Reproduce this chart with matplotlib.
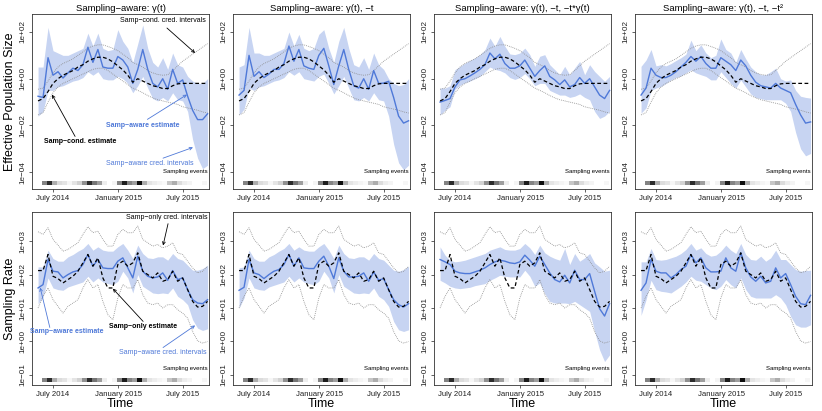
import matplotlib
matplotlib.use("Agg")
import matplotlib.pyplot as plt
import matplotlib.dates as mdates
import matplotlib.ticker as mticker
import numpy as np
import pandas as pd

plt.rcParams["font.family"] = ["Liberation Sans", "DejaVu Sans"]

# biweekly estimate grid and sampling-event bins
dates = pd.date_range("2014-05-21", periods=35, freq="14D")
event_dates = pd.date_range("2014-06-01", periods=33, freq="14D")

# relative density of sampling events (0 = none, 1 = most)
event_shade = [0.6, 0.9, 0.45, 0.25, 0.2, 0.08, 0.2, 0.3, 0.55, 0.9, 0.65, 0.5, 0.15, 0.0, 0.1, 0.6, 0.95,
               0.6, 0.5, 1.0, 0.45, 0.2, 0.15, 0.1, 0.05, 0.35, 0.45, 0.25, 0.15, 0.1, 0.0, 0.0, 0.08]

titles = ["Sampling\u2212aware: \u03b3(t)",
          "Sampling\u2212aware: \u03b3(t), \u2212t",
          "Sampling\u2212aware: \u03b3(t), \u2212t, \u2212t*\u03b3(t)",
          "Sampling\u2212aware: \u03b3(t), \u2212t, \u2212t\u00b2"]

# ---- effective population size (log10) ----
# sampling-conditioned estimate + cred. intervals (same in every panel)
ne_cond = [-0.95, -0.85, -0.55, -0.2, 0.0, 0.15, 0.25, 0.35, 0.5, 0.6, 0.75, 0.85, 0.92, 0.92, 0.85, 0.72, 0.55,
           0.38, 0.15, -0.15, 0.0, -0.1, -0.2, -0.3, -0.35, -0.42, -0.42, -0.3, -0.22, -0.2, -0.2, -0.2, -0.2, -0.2, -0.2]
ne_cond_lo = [-1.55, -1.45, -1.0, -0.6, -0.35, -0.2, -0.1, 0.0, 0.1, 0.2, 0.3, 0.4, 0.45, 0.45, 0.35, 0.2, 0.05,
              -0.1, -0.25, -0.4, -0.5, -0.6, -0.72, -0.82, -0.9, -0.95, -1.0, -1.05, -1.1, -1.2, -1.25, -1.3, -1.35, -1.42, -1.47]
ne_cond_hi = [-0.45, -0.4, -0.1, 0.25, 0.5, 0.65, 0.75, 0.85, 1.0, 1.15, 1.3, 1.4, 1.45, 1.45, 1.38, 1.3, 1.2,
              1.05, 0.9, 0.7, 0.6, 0.5, 0.35, 0.25, 0.18, 0.15, 0.17, 0.35, 0.55, 0.75, 0.9, 1.05, 1.2, 1.35, 1.5]

# sampling-aware estimates, one per model
ne_a = [-0.75, -0.8, 0.9, 0.15, 0.3, 0.03, 0.25, 0.45, 0.35, 0.6, 1.35, 0.7, 1.25, 0.5, 0.45, 0.45, 0.95,
        0.8, 0.5, -0.2, 0.4, 1.25, 0.4, -0.2, -0.35, 0.0, -0.45, 0.4, -0.2, -0.05, -0.75, -1.35, -1.75, -1.75, -1.5]
ne_a_lo = [-1.6, -1.4, -0.5, -0.5, -0.35, -0.3, -0.2, -0.1, -0.05, 0.05, 0.3, 0.15, 0.3, 0.0, -0.05, -0.05, 0.1,
           0.0, -0.2, -0.6, -0.3, 0.1, -0.4, -0.85, -0.95, -0.8, -0.95, -0.6, -0.9, -0.95, -1.4, -2.6, -3.4, -3.85, -3.7]
ne_a_hi = [0.5, 0.5, 2.2, 1.2, 1.1, 1.0, 1.0, 1.1, 1.2, 1.3, 1.95, 1.4, 1.95, 1.3, 1.2, 1.25, 2.1,
           1.6, 1.3, 0.7, 1.5, 2.3, 1.3, 0.7, 0.5, 0.9, 0.4, 1.1, 0.6, 0.5, 0.1, -0.1, -0.2, -0.2, 0.0]

ne_b = [-0.7, -0.5, 1.0, 0.1, 0.3, 0.05, 0.2, 0.4, 0.4, 0.65, 1.4, 0.75, 1.25, 0.55, 0.45, 0.4, 1.0,
        1.3, 0.55, -0.25, 0.55, 1.25, 0.4, -0.3, -0.4, 0.0, -0.45, 0.35, -0.2, -0.19, -0.11, -0.8, -1.6, -1.9, -1.8]
ne_b_lo = [-1.55, -1.3, -0.4, -0.5, -0.35, -0.3, -0.2, -0.1, -0.05, 0.05, 0.3, 0.15, 0.3, 0.0, -0.05, -0.1, 0.1,
           0.2, -0.2, -0.65, -0.3, 0.1, -0.4, -0.9, -0.95, -0.8, -0.95, -0.6, -0.9, -0.95, -1.6, -2.8, -3.6, -3.9, -3.7]
ne_b_hi = [0.5, 0.6, 2.2, 1.1, 1.1, 1.0, 1.0, 1.1, 1.2, 1.3, 2.0, 1.4, 1.9, 1.3, 1.2, 1.3, 1.9,
           2.1, 1.3, 0.7, 1.6, 2.2, 1.3, 0.6, 0.5, 0.9, 0.4, 1.1, 0.6, 0.4, 0.0, -0.2, -0.3, -0.25, 0.0]

ne_c = [-1.0, -0.93, -0.85, -0.35, -0.05, 0.0, 0.12, 0.25, 0.4, 0.6, 1.1, 0.85, 1.05, 0.65, 0.45, 0.45, 0.55,
        0.8, 0.45, 0.1, 0.35, 0.55, 0.1, -0.05, -0.25, -0.05, -0.35, -0.25, 0.05, -0.2, 0.0, -0.35, -0.7, -0.85, -0.5]
ne_c_lo = [-1.55, -1.35, -1.2, -0.45, -0.28, -0.17, -0.1, 0.0, 0.1, 0.3, 0.5, 0.4, 0.35, 0.25, 0.05, -0.03, 0.05,
           0.22, 0.0, -0.3, -0.2, -0.2, -0.5, -0.6, -0.7, -0.7, -0.8, -0.75, -0.65, -0.8, -0.9, -1.4, -1.7, -1.6, -1.4]
ne_c_hi = [-0.4, -0.4, -0.3, 0.39, 0.53, 0.67, 0.79, 0.89, 1.03, 1.24, 1.74, 1.39, 1.81, 1.39, 1.06, 1.03, 1.1,
           1.31, 1.03, 0.53, 0.96, 1.03, 0.6, 0.39, 0.17, 0.53, 0.17, 0.46, 0.74, 0.17, 0.6, 0.31, 0.1, -0.11, 0.1]

ne_d = [-0.7, -0.4, 0.45, 0.15, 0.05, 0.05, 0.15, 0.3, 0.5, 0.7, 0.95, 0.75, 0.95, 0.65, 0.45, 0.45, 0.9,
        0.75, 0.6, 0.35, 0.8, 0.55, 0.15, -0.15, -0.3, -0.35, -0.4, -0.2, -0.4, -0.5, -0.6, -1.1, -1.55, -1.9, -1.85]
ne_d_lo = [-1.47, -1.25, -0.5, -0.4, -0.33, -0.2, -0.05, 0.05, 0.12, 0.25, 0.38, 0.25, 0.17, 0.1, -0.05, -0.05, 0.3,
           0.05, -0.2, -0.4, -0.05, -0.35, -0.65, -0.8, -0.85, -0.9, -0.9, -0.9, -0.9, -1.05, -1.4, -2.3, -3.0, -3.3, -3.2]
ne_d_hi = [0.53, 0.8, 1.25, 0.55, 0.6, 0.55, 0.65, 0.78, 0.9, 1.05, 1.65, 1.2, 1.45, 1.1, 0.9, 1.0, 1.7,
           1.25, 1.1, 0.7, 1.25, 0.85, 0.5, 0.3, 0.17, 0.17, 0.3, 0.45, 0.0, -0.1, -0.05, -0.5, -0.75, -0.8, -0.83]

# ---- sampling rate (log10) ----
sr_only = [2.12, 2.12, 2.6, 1.95, 1.88, 1.75, 1.85, 1.95, 2.1, 2.35, 2.6, 2.25, 2.5, 1.9, 1.6, 1.6, 2.3,
           2.4, 2.25, 2.35, 2.65, 2.1, 2.0, 1.9, 2.05, 1.8, 1.85, 2.1, 1.8, 1.9, 1.55, 1.2, 1.03, 1.05, 1.2]
sr_only_lo = [1.0, 1.35, 1.6, 1.25, 1.05, 0.85, 1.05, 1.15, 1.25, 1.6, 1.85, 1.6, 1.7, 1.2, 0.8, 0.65, 1.3,
              1.7, 1.6, 1.6, 1.85, 1.4, 1.15, 1.1, 1.15, 1.0, 1.1, 1.1, 0.95, 0.85, 0.7, 0.3, 0.02, -0.05, 0.0]
sr_only_hi = [3.28, 3.2, 3.4, 3.05, 2.88, 2.7, 2.75, 2.85, 2.95, 3.2, 3.43, 3.25, 3.3, 3.05, 2.85, 2.85, 3.2,
              3.35, 3.25, 3.25, 3.45, 3.05, 2.95, 2.85, 2.9, 2.8, 2.85, 2.95, 2.65, 2.6, 2.4, 2.2, 2.05, 2.1, 2.25]

sr_a = [1.6, 1.7, 2.45, 2.1, 2.08, 1.9, 2.0, 2.08, 2.12, 2.3, 2.6, 2.25, 2.45, 2.2, 2.18, 2.18, 2.4,
        2.5, 2.2, 1.9, 2.55, 2.1, 1.95, 1.9, 1.93, 2.05, 1.83, 2.12, 1.85, 1.9, 1.55, 1.25, 1.15, 1.13, 1.25]
sr_a_lo = [1.13, 1.33, 1.9, 1.6, 1.55, 1.53, 1.63, 1.68, 1.73, 1.78, 1.95, 1.78, 1.9, 1.78, 1.73, 1.7, 1.8,
           2.1, 1.9, 1.45, 2.0, 1.65, 1.55, 1.45, 1.43, 1.45, 1.43, 1.6, 1.35, 1.25, 1.1, 0.65, 0.4, 0.33, 0.38]
sr_a_hi = [2.23, 2.23, 2.73, 2.48, 2.4, 2.4, 2.53, 2.6, 2.7, 2.78, 2.93, 2.73, 2.83, 2.73, 2.7, 2.7, 2.83,
           2.93, 2.73, 2.48, 2.88, 2.63, 2.5, 2.48, 2.53, 2.53, 2.43, 2.63, 2.48, 2.43, 2.28, 2.13, 2.13, 2.18, 2.28]

sr_b = [1.53, 1.62, 2.45, 2.05, 2.0, 1.88, 2.0, 2.1, 2.15, 2.3, 2.6, 2.25, 2.5, 2.2, 2.18, 2.18, 2.4,
        2.55, 2.25, 1.88, 2.5, 2.1, 1.93, 1.93, 1.95, 2.05, 1.8, 2.08, 1.83, 1.88, 1.55, 1.25, 1.1, 1.03, 1.13]
sr_b_lo = [1.0, 1.3, 1.9, 1.6, 1.55, 1.53, 1.63, 1.68, 1.73, 1.78, 1.95, 1.78, 1.9, 1.78, 1.73, 1.7, 1.8,
           2.1, 1.9, 1.45, 2.0, 1.65, 1.55, 1.45, 1.43, 1.45, 1.43, 1.6, 1.35, 1.25, 1.05, 0.6, 0.35, 0.3, 0.35]
sr_b_hi = [2.2, 2.23, 2.73, 2.48, 2.4, 2.4, 2.53, 2.6, 2.7, 2.78, 2.93, 2.73, 2.83, 2.73, 2.7, 2.7, 2.83,
           2.93, 2.73, 2.48, 2.88, 2.63, 2.5, 2.48, 2.53, 2.53, 2.43, 2.63, 2.48, 2.43, 2.28, 2.13, 2.1, 2.15, 2.25]

sr_c = [2.45, 2.38, 2.3, 2.1, 2.05, 2.03, 2.03, 2.08, 2.13, 2.2, 2.3, 2.38, 2.43, 2.4, 2.35, 2.33, 2.38,
        2.58, 2.43, 2.25, 2.55, 2.3, 2.05, 1.85, 1.78, 1.98, 1.75, 2.13, 1.85, 1.85, 2.03, 1.5, 0.98, 0.76, 1.13]
sr_c_lo = [1.83, 1.75, 1.65, 1.6, 1.58, 1.6, 1.62, 1.67, 1.7, 1.73, 1.83, 1.9, 1.98, 1.95, 1.93, 1.93, 1.93,
           2.13, 1.95, 1.65, 1.75, 1.43, 1.2, 1.15, 1.15, 1.15, 1.13, 1.2, 1.1, 1.0, 0.9, 0.3, -0.25, -0.6, -0.4]
sr_c_hi = [2.83, 2.58, 2.43, 2.38, 2.4, 2.43, 2.48, 2.53, 2.58, 2.63, 2.73, 2.78, 2.83, 2.75, 2.73, 2.73, 2.78,
           2.93, 2.8, 2.6, 2.88, 2.65, 2.55, 2.48, 2.43, 2.78, 2.3, 2.63, 2.4, 2.5, 2.63, 2.35, 2.23, 2.1, 2.13]

sr_d = [1.53, 1.75, 2.45, 2.1, 2.05, 2.05, 1.9, 2.0, 2.15, 2.25, 2.6, 2.35, 2.5, 2.2, 2.08, 2.08, 2.1,
        2.5, 2.2, 2.1, 2.65, 2.2, 1.93, 1.8, 1.95, 1.75, 1.8, 2.2, 1.9, 2.03, 1.7, 1.35, 1.13, 1.1, 1.38]
sr_d_lo = [0.78, 1.25, 1.83, 1.55, 1.5, 1.48, 1.45, 1.55, 1.65, 1.78, 1.95, 1.83, 1.8, 1.7, 1.6, 1.55, 1.65,
           1.85, 1.7, 1.6, 1.9, 1.55, 1.35, 1.3, 1.3, 1.3, 1.3, 1.4, 1.3, 1.1, 0.75, 0.5, 0.43, 0.43, 0.5]
sr_d_hi = [2.38, 2.38, 2.78, 2.45, 2.43, 2.45, 2.5, 2.55, 2.63, 2.75, 2.93, 2.73, 2.8, 2.63, 2.55, 2.58, 2.7,
           2.88, 2.73, 2.63, 2.93, 2.6, 2.45, 2.43, 2.55, 2.4, 2.5, 2.73, 2.45, 2.45, 2.3, 2.15, 2.1, 2.12, 2.13]

BLUE = "#4f79d8"
BAND = "#c7d4f2"
DOT = "#8a8a8a"

W, H = 822, 411
fig = plt.figure(figsize=(W / 100, H / 100), dpi=100)

lefts = [32, 233, 434, 635]
rows = [(14, 189), (212, 385)]

ne_sets = [(ne_a, ne_a_lo, ne_a_hi), (ne_b, ne_b_lo, ne_b_hi), (ne_c, ne_c_lo, ne_c_hi), (ne_d, ne_d_lo, ne_d_hi)]
sr_sets = [(sr_a, sr_a_lo, sr_a_hi), (sr_b, sr_b_lo, sr_b_hi), (sr_c, sr_c_lo, sr_c_hi), (sr_d, sr_d_lo, sr_d_hi)]


def d(s):
    return mdates.date2num(pd.Timestamp(s))


def sci_fmt(v, pos):
    e = int(round(np.log10(v)))
    return "1e" + ("+" if e >= 0 else "\u2212") + "%02d" % abs(e)


def draw(ax, est, ref, ref_lo, ref_hi, ylim, yticks, strip_c, strip_h):
    mid, lo, hi = [10 ** np.array(v) for v in est]
    ax.fill_between(dates, lo, hi, color=BAND, lw=0)
    ax.plot(dates, 10 ** np.array(ref_lo), color=DOT, lw=0.6, ls=(0, (1, 1.3)))
    ax.plot(dates, 10 ** np.array(ref_hi), color=DOT, lw=0.6, ls=(0, (1, 1.3)))
    ax.plot(dates, mid, color=BLUE, lw=1.0)
    ax.plot(dates, 10 ** np.array(ref), color="black", lw=0.9, dashes=(3, 2))
    # sampling-event strip
    b0, b1 = 10 ** (strip_c - strip_h), 10 ** (strip_c + strip_h)
    ax.bar(event_dates, b1 - b0, width=14, bottom=b0, align="edge",
           color=plt.cm.Greys(np.array(event_shade) * 0.95), lw=0)
    ax.set_yscale("log")
    ax.set_ylim(10 ** ylim[0], 10 ** ylim[1])
    ax.set_xlim(d("2014-05-04"), d("2015-09-13"))
    ax.yaxis.set_major_locator(mticker.FixedLocator([10.0 ** k for k in yticks]))
    ax.yaxis.set_minor_locator(mticker.NullLocator())
    ax.yaxis.set_major_formatter(mticker.FuncFormatter(sci_fmt))
    ax.set_xticks([d("2014-07-01"), d("2015-01-01"), d("2015-07-01")])
    ax.set_xticklabels(["July 2014", "January 2015", "July 2015"])
    ax.tick_params(labelsize=5.6, length=2.5, width=0.5, pad=1.5, colors="#222222")
    ax.tick_params(axis="y", labelsize=5.9)
    for lab in ax.get_yticklabels():
        lab.set_rotation(90)
        lab.set_va("center")
    for sp in ax.spines.values():
        sp.set_linewidth(0.6)
        sp.set_color("#333333")
    ax.text(d("2015-09-10"), 10 ** (strip_c + strip_h + (0.28 if strip_h > 0.08 else 0.2)),
            "Sampling events", fontsize=4.3, ha="right", va="bottom")


axes = []
for r, (top, bot) in enumerate(rows):
    for c, left in enumerate(lefts):
        ax = fig.add_axes([left / W, 1 - bot / H, 177 / W, (bot - top) / H])
        if r == 0:
            draw(ax, ne_sets[c], ne_cond, ne_cond_lo, ne_cond_hi, (-4.72, 2.77), [2, 0, -2, -4], -4.47, 0.095)
            ax.set_title(titles[c], fontsize=6.8, pad=2.5)
        else:
            draw(ax, sr_sets[c], sr_only, sr_only_lo, sr_only_hi, (-1.3, 3.87), [3, 2, 1, 0, -1], -1.15, 0.067)
            ax.set_xlabel("Time", fontsize=9, labelpad=0)
        axes.append(ax)

axes[0].set_ylabel("Effective Population Size", fontsize=9, labelpad=2.5)
axes[4].set_ylabel("Sampling Rate", fontsize=9, labelpad=2.5)

arrow_k = dict(arrowstyle="->", lw=0.6, color="black", shrinkA=0, shrinkB=0, mutation_scale=5)
arrow_b = dict(arrowstyle="->", lw=0.6, color=BLUE, shrinkA=0, shrinkB=0, mutation_scale=5)
fs = 5.0

# top-left annotations
ax = axes[0]
ax.text(d("2015-05-07"), 10 ** 2.51, "Samp\u2212cond. cred. intervals", fontsize=fs, ha="center", va="center")
ax.annotate("", xy=(d("2015-08-05"), 10 ** 1.1), xytext=(d("2015-05-18"), 10 ** 2.17), arrowprops=arrow_k)
ax.text(d("2014-09-16"), 10 ** -2.68, "Samp\u2212cond. estimate", fontsize=fs, ha="center", va="center",
        fontweight="bold")
ax.annotate("", xy=(d("2014-06-29"), 10 ** -0.68), xytext=(d("2014-09-02"), 10 ** -2.47), arrowprops=arrow_k)
ax.text(d("2015-03-12"), 10 ** -2.0, "Samp\u2212aware estimate", fontsize=fs, ha="center", va="center",
        fontweight="bold", color=BLUE)
ax.annotate("", xy=(d("2015-07-13"), 10 ** -0.68), xytext=(d("2015-03-24"), 10 ** -1.74), arrowprops=arrow_b)
ax.text(d("2015-04-01"), 10 ** -3.62, "Samp\u2212aware cred. intervals", fontsize=fs, ha="center", va="center",
        color=BLUE)
ax.annotate("", xy=(d("2015-07-30"), 10 ** -2.94), xytext=(d("2015-05-07"), 10 ** -3.40), arrowprops=arrow_b)

# bottom-left annotations
ax = axes[4]
ax.text(d("2015-05-18"), 10 ** 3.70, "Samp\u2212only cred. intervals", fontsize=fs, ha="center", va="center")
ax.annotate("", xy=(d("2015-05-07"), 10 ** 2.87), xytext=(d("2015-05-21"), 10 ** 3.52), arrowprops=arrow_k)
ax.text(d("2015-03-12"), 10 ** 0.45, "Samp\u2212only estimate", fontsize=fs, ha="center", va="center",
        fontweight="bold")
ax.annotate("", xy=(d("2014-12-17"), 10 ** 1.58), xytext=(d("2015-03-12"), 10 ** 0.6), arrowprops=arrow_k)
ax.text(d("2014-08-10"), 10 ** 0.3, "Samp\u2212aware estimate", fontsize=fs, ha="center", va="center",
        fontweight="bold", color=BLUE, clip_on=False)
ax.annotate("", xy=(d("2014-05-27"), 10 ** 1.61), xytext=(d("2014-06-23"), 10 ** 0.42), arrowprops=arrow_b)
ax.text(d("2015-05-07"), 10 ** -0.33, "Samp\u2212aware cred. intervals", fontsize=fs, ha="center", va="center",
        color=BLUE)
ax.annotate("", xy=(d("2015-08-05"), 10 ** 0.48), xytext=(d("2015-05-07"), 10 ** -0.18), arrowprops=arrow_b)

fig.savefig("out.png", dpi=100)
